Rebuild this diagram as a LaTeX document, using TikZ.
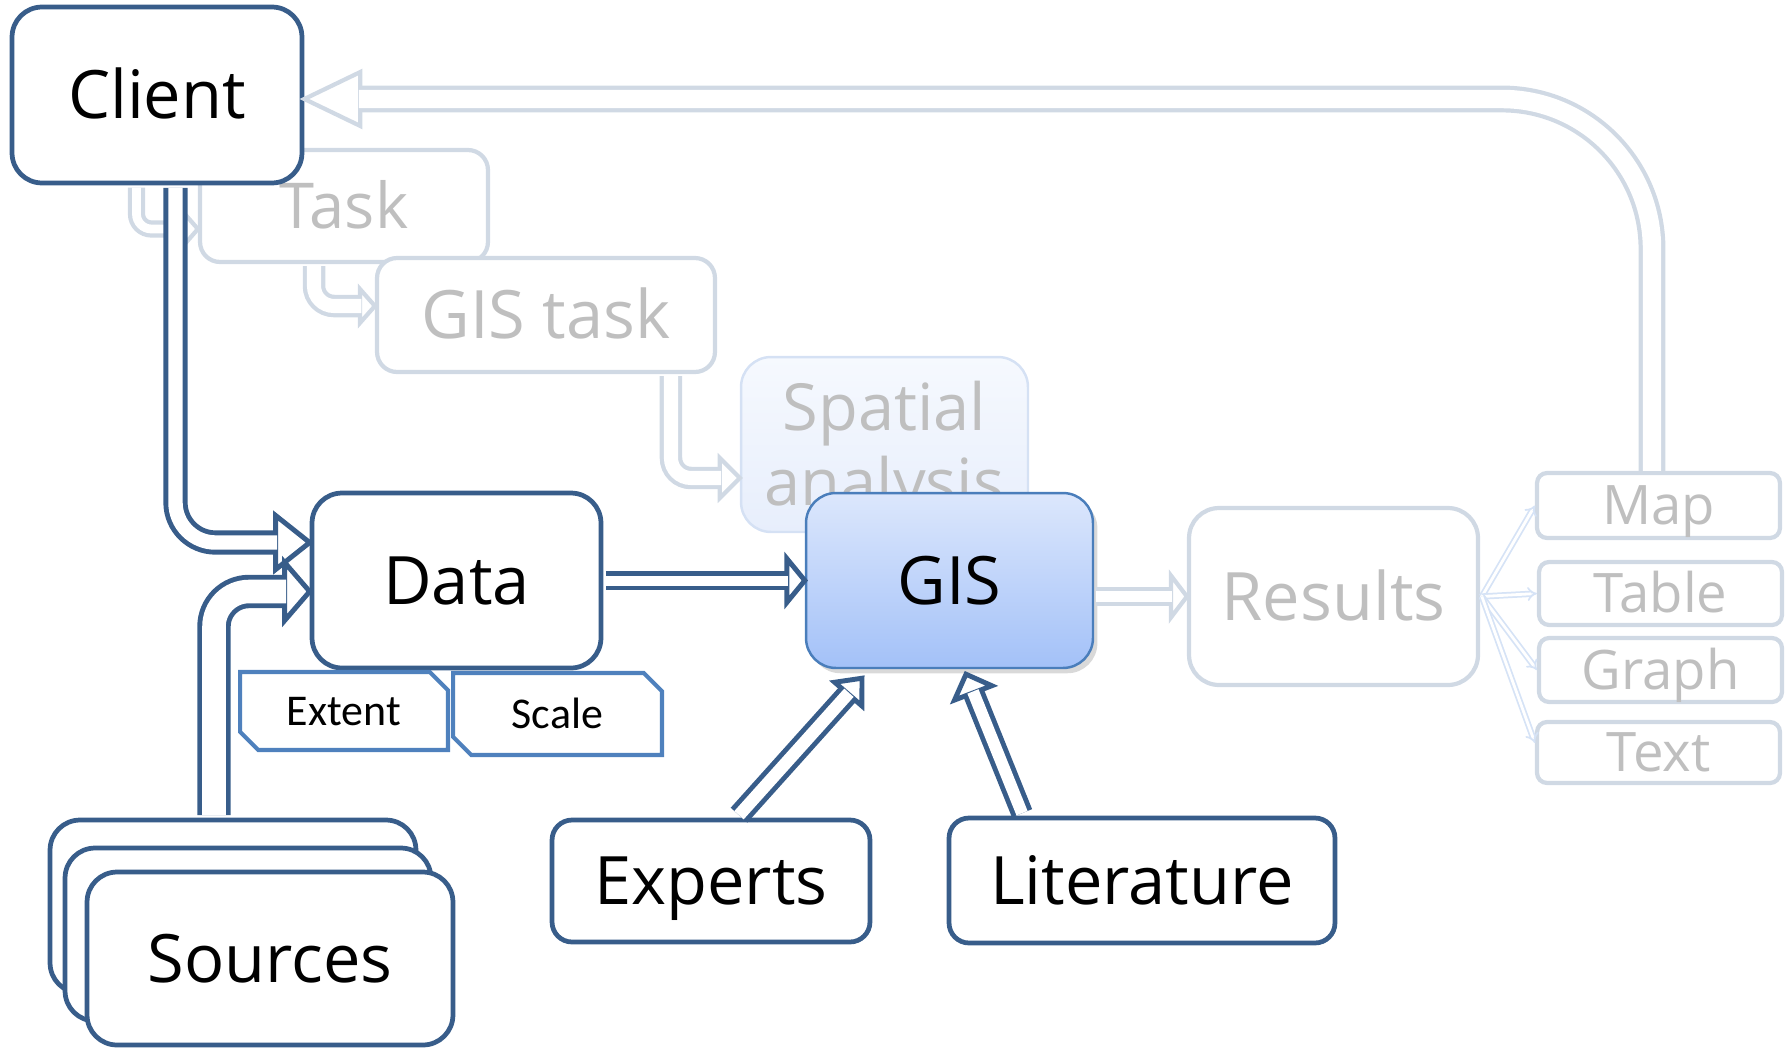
\documentclass[tikz,border=0pt]{standalone}
\usepackage{fontspec}
\setmainfont{Open Sans}
\newfontfamily\calibri{Carlito}
\usetikzlibrary{shapes.misc,shadows,arrows.meta}

\definecolor{dkblue}{HTML}{385D8A}
\definecolor{midblue}{HTML}{4F81BD}
\definecolor{gisline}{HTML}{4A7EBB}
\definecolor{gistop}{HTML}{DCE7FC}
\definecolor{gisbot}{HTML}{A3C1F8}
\definecolor{pale}{HTML}{D0D9E4}
\definecolor{paletext}{HTML}{BFBFBF}
\definecolor{outline}{HTML}{D6E3F6}
\definecolor{sptop}{HTML}{F6F9FE}
\definecolor{spbot}{HTML}{E7EEFC}
\definecolor{spline}{HTML}{D5E1F4}

\tikzset{
  box/.style={rectangle, draw=dkblue, line width=2.7pt, fill=white, rounded corners=0.6cm,
    font=\fontsize{38}{44}\selectfont, text height=27pt, text depth=0pt},
  pale box/.style={box, draw=pale, line width=2.4pt, text=paletext, rounded corners=0.4cm},
  small box/.style={pale box, font=\fontsize{31}{36}\selectfont, text height=22pt, rounded corners=0.2cm},
  spatial box/.style={rectangle, draw=spline, line width=1.4pt, top color=sptop, bottom color=spbot,
    rounded corners=0.6cm, text=paletext, align=center, font=\fontsize{37}{42.7}\selectfont},
  gis box/.style={box, draw=gisline, line width=1.4pt, top color=gistop, bottom color=gisbot,
    drop shadow={shadow xshift=2.5pt, shadow yshift=-3pt, opacity=0.3}},
  tag/.style={chamfered rectangle, chamfered rectangle corners={north east,south west},
    chamfered rectangle xsep=0.24cm, draw=midblue, line width=2.3pt, fill=white,
    font=\calibri\fontsize{25}{30}\selectfont, text height=16pt, text depth=0pt},
  dkpipe/.style={draw=dkblue, line width=2.8pt},
  ltpipe/.style={draw=pale, line width=2.4pt},
  outpipe/.style={draw=outline, line width=1pt, double=white, double distance=1.6pt, -{Implies}},
}

% hollow block arrow: [style]{gap}{path}{tip}{angle}{head length}{head half width}
\newcommand\pipe[7][dkpipe]{%
  \filldraw[#1, fill=white, shift={(#4)}, rotate=#5] (0,0) -- (-#6,#7) -- (-#6,-#7) -- cycle;
  \draw[#1, double=white, double distance=#2, shorten >=#6*0.02cm-0.8pt] #3 (#4);
}

\begin{document}
\begin{tikzpicture}[x=0.02cm, y=-0.02cm]
  \useasboundingbox (0,0) rectangle (1791,1048);

  % faded task chain
  \node[pale box, minimum width=5.76cm, minimum height=2.24cm, font=\fontsize{36}{40}\selectfont, text height=25.7pt] (task) at (344,206) {Task};
  \node[box, minimum width=5.8cm, minimum height=3.52cm] (client) at (157,95) {Client};
  \node[pale box, minimum width=6.76cm, minimum height=2.28cm] (gistask) at (546,315) {GIS task};
  \node[spatial box, minimum width=5.74cm, minimum height=3.5cm] (spatial) at (884.5,444.5) {\rule{0pt}{36pt}Spatial\\analysis};

  % results
  \node[pale box, minimum width=5.78cm, minimum height=3.54cm, rounded corners=0.6cm] (results) at (1333.5,596.5) {Results};
  \node[small box, minimum width=4.86cm, minimum height=1.3cm] (map) at (1658.5,505.5) {Map};
  \node[small box, minimum width=4.86cm, minimum height=1.26cm] (table) at (1660.5,593.5) {Table};
  \node[small box, minimum width=4.86cm, minimum height=1.28cm] (graph) at (1660.5,670) {Graph};
  \node[small box, minimum width=4.86cm, minimum height=1.22cm] (txt) at (1658.5,752.5) {Text};

  % main nodes
  \node[box, minimum width=5.78cm, minimum height=3.5cm] (data) at (456.5,580.5) {Data};
  \node[gis box, minimum width=5.74cm, minimum height=3.5cm] (gis) at (949.5,580.5) {GIS};
  \node[tag, minimum width=4.16cm, minimum height=1.56cm] (extent) at (344,711) {Extent};
  \node[tag, minimum width=4.18cm, minimum height=1.64cm] (scale) at (557.5,714) {Scale};
  \node[box, minimum width=6.36cm, minimum height=2.44cm, rounded corners=0.4cm] (experts) at (711,881) {Experts};
  \node[box, minimum width=7.72cm, minimum height=2.5cm, rounded corners=0.4cm] (literature) at (1142,880.5) {Literature};
  \node[box, minimum width=7.32cm, minimum height=3.46cm] (src3) at (233,906.5) {};
  \node[box, minimum width=7.32cm, minimum height=3.46cm] (src2) at (248,934.5) {};
  \node[box, minimum width=7.32cm, minimum height=3.46cm] (sources) at (270,958.5) {Sources};

  % faded arrows
  \pipe[ltpipe]{10.5pt}{([xshift=-0.13cm]map.north) [rounded corners=3cm] |-}{[yshift=-0.08cm]client.east}{180}{56}{27}
  \pipe[ltpipe]{5pt}{([xshift=-0.41cm, yshift=-1.3pt]client.south) [rounded corners=0.3cm] |-}{[yshift=-0.46cm]task.west}{0}{14}{16}
  \pipe[ltpipe]{8pt}{([xshift=-0.6cm, yshift=-1.2pt]task.south) [rounded corners=0.4cm] |-}{[yshift=0.18cm]gistask.west}{0}{15}{17}
  \pipe[ltpipe]{8pt}{([xshift=2.5cm, yshift=-1.2pt]gistask.south) [rounded corners=0.4cm] |-}{[yshift=-0.67cm]spatial.west}{0}{20}{20}
  \pipe[ltpipe]{6pt}{([xshift=1pt]gis.east |- results.west) --}{results.west}{0}{16}{21}

  \draw[outpipe] ([xshift=1pt]results.east) -- (map.west);
  \draw[outpipe] ([xshift=1pt]results.east) -- (table.west);
  \draw[outpipe] ([xshift=1pt]results.east) -- (graph.west);
  \draw[outpipe] ([xshift=1pt]results.east) -- ([yshift=0.19cm]txt.west);

  % main arrows
  \pipe{8.2pt}{([xshift=0.37cm, yshift=-1.4pt]client.south) [rounded corners=0.8cm] |-}{[yshift=0.76cm]data.west}{0}{34}{27}
  \pipe{13.4pt}{([xshift=-0.38cm, yshift=1.4pt]src3.north) [rounded corners=0.7cm] |-}{[yshift=-0.22cm]data.west}{0}{25}{29}
  \pipe{5.7pt}{([xshift=1.4pt]data.east) --}{gis.west}{0}{18}{22}
  \pipe{7.1pt}{([xshift=0.56cm, yshift=1.4pt]experts.north) --}{[xshift=-1.75cm, yshift=-0.18cm]gis.south}{49}{21}{18}
  \pipe{6.8pt}{([xshift=-2.4cm, yshift=1.4pt]literature.north) --}{[xshift=0.33cm, yshift=-0.1cm]gis.south}{111}{20}{20}
\end{tikzpicture}
\end{document}
